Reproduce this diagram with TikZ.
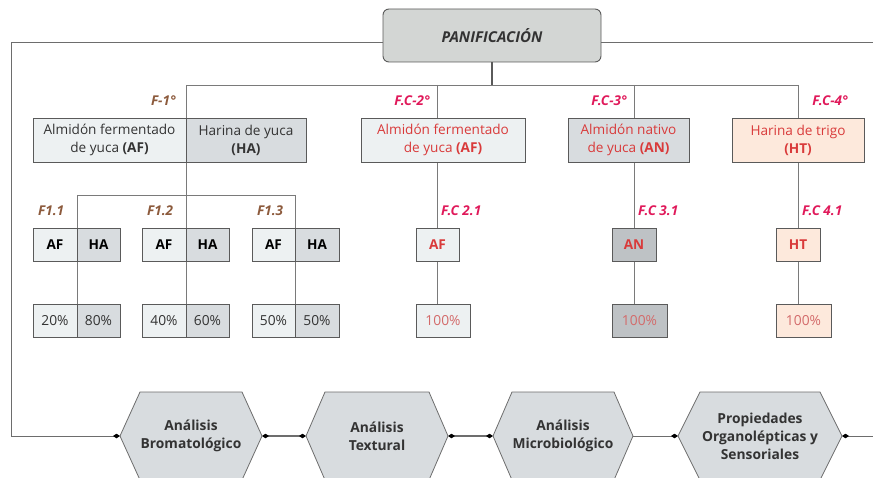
\documentclass[tikz,border=0pt]{standalone}
\usepackage{fontspec}
\setmainfont{Open Sans}
\usetikzlibrary{arrows.meta,backgrounds}
\definecolor{boxline}{HTML}{5A5A5A}
\definecolor{treeline}{HTML}{7A7A7A}
\definecolor{panfill}{HTML}{D3D6D4}
\definecolor{lightfill}{HTML}{EDF1F2}
\definecolor{midfill}{HTML}{D8DCDF}
\definecolor{darkfill}{HTML}{BEC2C5}
\definecolor{peach}{HTML}{FDE9DC}
\definecolor{brownlab}{HTML}{8C5A3C}
\definecolor{redlab}{HTML}{E0195A}
\definecolor{redtext}{HTML}{D93A3A}
\definecolor{redsoft}{HTML}{D36A6A}
\definecolor{textgray}{HTML}{333333}
\definecolor{hexline}{HTML}{6D6D6D}
\tikzset{
  bx/.style={draw=boxline, line width=0.9pt, inner sep=0pt, outer sep=0pt, align=center,
    font=\fontsize{13.6}{18}\selectfont, text=textgray},
  sbx/.style={bx, font=\fontsize{13.6}{16}\selectfont\bfseries, text=black},
  pbx/.style={bx, font=\fontsize{13.8}{16}\selectfont},
  lab/.style={inner sep=0pt, font=\fontsize{13.5}{15}\selectfont\bfseries\itshape},
  tree/.style={draw=treeline, line width=0.8pt},
  hexnode/.style={inner sep=0pt, outer sep=0pt, minimum height=88pt, align=center,
    font=\fontsize{13.8}{18}\selectfont\bfseries, text=textgray},
  hexshape/.style={draw=hexline, fill=midfill, line width=0.8pt},
  conn/.style={draw=hexline, line width=0.8pt},
  dia/.tip={Turned Square[length=7pt,width=4.5pt,black]}
}
\begin{document}
\begin{tikzpicture}[x=1pt,y=-1pt]
\useasboundingbox (0,0) rectangle (873,478);
% top box
\node[bx, fill=panfill, rounded corners=6pt, minimum width=218pt, minimum height=53pt,
  font=\fontsize{15}{16}\selectfont\bfseries\itshape, text=textgray] (panif) at (492,35.5) {PANIFICACIÓN};
% row 1
\node[bx, fill=lightfill, minimum width=153pt, minimum height=44pt] (af1) at (109.5,140) {Almidón fermentado\\de yuca \textbf{(AF)}};
\node[bx, fill=midfill, minimum width=120pt, minimum height=44pt] (ha1) at (246,140) {Harina de yuca\\\textbf{(HA)}};
\node[bx, fill=lightfill, minimum width=164pt, minimum height=44pt, text=redtext] (fc2) at (443,140) {Almidón fermentado\\de yuca \textbf{(AF)}};
\node[bx, fill=midfill, minimum width=121pt, minimum height=44pt, text=redtext] (fc3) at (628.5,140) {Almidón nativo\\de yuca \textbf{(AN)}};
\node[bx, fill=peach, minimum width=132pt, minimum height=44pt, text=redtext] (fc4) at (798,140) {Harina de trigo\\\textbf{(HT)}};
% labels row 1
\node[lab, text=brownlab, anchor=east] (l1) at (176,101) {F-1°};
\node[lab, text=redlab, anchor=east] (l2) at (430,101) {F.C-2°};
\node[lab, text=redlab, anchor=east] (l3) at (627,101) {F.C-3°};
\node[lab, text=redlab, anchor=east] (l4) at (848,101) {F.C-4°};
% row 2
\node[sbx, fill=lightfill, minimum width=44pt, minimum height=33pt] (a11) at (55,244.5) {AF};
\node[sbx, fill=midfill, minimum width=43pt, minimum height=33pt] (h11) at (98.5,244.5) {HA};
\node[sbx, fill=lightfill, minimum width=44pt, minimum height=33pt] (a12) at (164,244.5) {AF};
\node[sbx, fill=midfill, minimum width=43pt, minimum height=33pt] (h12) at (207.5,244.5) {HA};
\node[sbx, fill=lightfill, minimum width=43pt, minimum height=33pt] (a13) at (273.5,244.5) {AF};
\node[sbx, fill=midfill, minimum width=44pt, minimum height=33pt] (h13) at (317,244.5) {HA};
\node[sbx, fill=lightfill, minimum width=43pt, minimum height=33pt, text=redtext] (af2) at (437.5,244.5) {AF};
\node[sbx, fill=darkfill, minimum width=44pt, minimum height=33pt, text=redtext] (an3) at (634,244.5) {AN};
\node[sbx, fill=peach, minimum width=44pt, minimum height=33pt, text=redtext] (ht4) at (798,244.5) {HT};
% labels row 2
\node[lab, text=brownlab, anchor=west] (m11) at (38,211) {F1.1};
\node[lab, text=brownlab, anchor=west] (m12) at (147,211) {F1.2};
\node[lab, text=brownlab, anchor=west] (m13) at (257,211) {F1.3};
\node[lab, text=redlab, anchor=west] (m2) at (441,211) {F.C 2.1};
\node[lab, text=redlab, anchor=west] (m3) at (638,211) {F.C 3.1};
\node[lab, text=redlab, anchor=west] (m4) at (802,211) {F.C 4.1};
% row 3
\node[pbx, fill=lightfill, minimum width=44pt, minimum height=33pt] (p11) at (55,320.5) {20\%};
\node[pbx, fill=midfill, minimum width=43pt, minimum height=33pt] (q11) at (98.5,320.5) {80\%};
\node[pbx, fill=lightfill, minimum width=44pt, minimum height=33pt] (p12) at (164,320.5) {40\%};
\node[pbx, fill=midfill, minimum width=43pt, minimum height=33pt] (q12) at (207.5,320.5) {60\%};
\node[pbx, fill=lightfill, minimum width=43pt, minimum height=33pt] (p13) at (273.5,320.5) {50\%};
\node[pbx, fill=midfill, minimum width=44pt, minimum height=33pt] (q13) at (317,320.5) {50\%};
\node[pbx, fill=lightfill, minimum width=54pt, minimum height=33pt, text=redsoft] (r2) at (443,320.5) {100\%};
\node[pbx, fill=darkfill, minimum width=55pt, minimum height=33pt, text=redsoft] (r3) at (639.5,320.5) {100\%};
\node[pbx, fill=peach, minimum width=55pt, minimum height=33pt, text=redsoft] (r4) at (803.5,320.5) {100\%};
% tree lines
\begin{scope}[on background layer]
\coordinate (j0) at (492,85);
\coordinate (jL) at (186,85);
\coordinate (jR) at (798,85);
\coordinate (j2) at (437,85);
\coordinate (j3) at (634,85);
\coordinate (k0) at (186,195);
\coordinate (kL) at (77,195);
\coordinate (kR) at (295,195);
\draw[tree, line width=1.6pt, draw=boxline] (panif.south) -- (j0);
\draw[tree] (jL) -- (jR);
\draw[tree] (jL) -- (k0);
\draw[tree] (kL) -- (kR);
\draw[tree] (kL) -- (kL |- q11.north);
\draw[tree] (k0) -- (k0 |- q12.north);
\draw[tree] (kR) -- (kR |- q13.north);
\draw[tree] (j2) -- (j2 |- r2.north);
\draw[tree] (j3) -- (j3 |- r3.north);
\draw[tree] (jR) -- (jR |- r4.north);
\end{scope}
% hexagons
\node[hexnode, minimum width=142pt] (x1) at (191,436) {Análisis\\Bromatológico};
\node[hexnode, minimum width=142pt] (x2) at (377,436) {Análisis\\Textural};
\node[hexnode, minimum width=140pt] (x3) at (563,436) {Análisis\\Microbiológico};
\node[hexnode, minimum width=164pt] (x4) at (760,436) {Propiedades\\Organolépticas y\\Sensoriales};
\begin{scope}[on background layer]
\foreach \h/\s in {x1/20,x2/19,x3/19,x4/22}{
  \draw[hexshape] (\h.west) -- ([xshift=\s pt]\h.north west) -- ([xshift=-\s pt]\h.north east)
    -- (\h.east) -- ([xshift=-\s pt]\h.south east) -- ([xshift=\s pt]\h.south west) -- cycle;
}
\end{scope}
% side connectors
\coordinate (c1) at (11,42);
\coordinate (c2) at (11,436);
\coordinate (c3) at (873,42);
\coordinate (c4) at (873,436);
\draw[conn] ([yshift=-6.5pt]panif.west) -- (c1) -- (c2);
\draw[conn, -dia] (c2) -- (x1.west);
\draw[conn] ([yshift=-6.5pt]panif.east) -- (c3);
\draw[conn, line width=1.1pt, dia-dia] (x1.east) -- (x2.west);
\draw[conn, line width=1.1pt, dia-dia] (x2.east) -- (x3.west);
\draw[conn, -dia] (x3.east) -- (x4.west);
\draw[conn, dia-] (x4.east) -- (c4);
\end{tikzpicture}
\end{document}
